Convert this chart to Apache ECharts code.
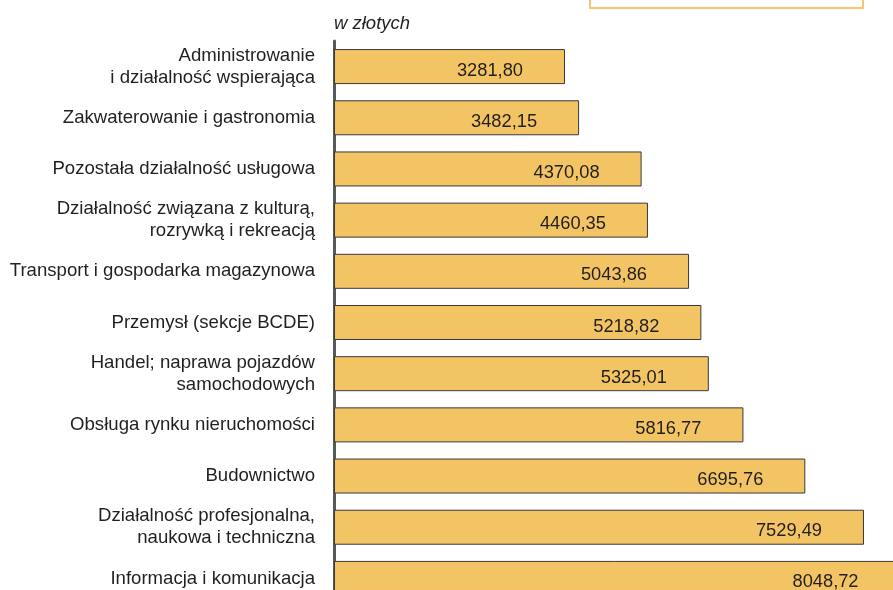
<!DOCTYPE html>
<html>
<head>
<meta charset="utf-8">
<script src="https://cdn.jsdelivr.net/npm/echarts@6/dist/echarts.min.js"></script>
<style>
  html, body { margin: 0; padding: 0; background: #fff; }
  #chart { width: 893px; height: 590px; }
</style>
</head>
<body>
<div id="chart"></div>
<script>
const categories = [
  'Administrowanie\ni działalność wspierająca',
  'Zakwaterowanie i gastronomia',
  'Pozostała działalność usługowa',
  'Działalność związana z kulturą,\nrozrywką i rekreacją',
  'Transport i gospodarka magazynowa',
  'Przemysł (sekcje BCDE)',
  'Handel; naprawa pojazdów\nsamochodowych',
  'Obsługa rynku nieruchomości',
  'Budownictwo',
  'Działalność profesjonalna,\nnaukowa i techniczna',
  'Informacja i komunikacja'
]
const wages = [3281.80, 3482.15, 4370.08, 4460.35, 5043.86, 5218.82, 5325.01, 5816.77, 6695.76, 7529.49, 8048.72]
const unitLabel = 'w złotych'

const chart = echarts.init(document.getElementById('chart'))

const font = "'Liberation Sans', Arial, sans-serif"

chart.setOption({
  backgroundColor: '#fff',
  animation: false,
  title: {
    text: unitLabel,
    left: 329,
    top: 9,
    textStyle: {
      fontFamily: font,
      fontSize: 18.5,
      fontStyle: 'italic',
      fontWeight: 'normal',
      color: '#231f20'
    }
  },
  graphic: [{
    // ramka legendy (przycięta u góry)
    type: 'rect',
    shape: { x: 590, y: -20, width: 273, height: 28 },
    style: { fill: 'none', stroke: '#f9c66d', lineWidth: 2 }
  }],
  grid: {
    left: 334,
    top: 41,
    width: 633.5,
    height: 563,
    outerBoundsMode: 'none'
  },
  xAxis: {
    type: 'value',
    min: 0,
    max: 9000,
    show: false
  },
  yAxis: {
    type: 'category',
    inverse: true,
    data: categories,
    axisLine: { lineStyle: { color: '#58595b', width: 3 } },
    axisTick: { show: false },
    axisLabel: {
      margin: 19,
      fontFamily: font,
      fontSize: 18.6,
      lineHeight: 22,
      color: '#231f20',
      align: 'right'
    }
  },
  series: [{
    type: 'bar',
    data: wages,
    barWidth: 35,
    clip: false,
    itemStyle: {
      color: '#f3c463',
      borderColor: '#3a3a3a',
      borderWidth: 1
    },
    label: {
      show: true,
      position: 'insideRight',
      distance: 42,
      offset: [0, 4],
      fontFamily: font,
      fontSize: 18.3,
      color: '#231f20',
      formatter: p => p.value.toFixed(2).replace('.', ',')
    }
  }]
})
</script>
</body>
</html>
